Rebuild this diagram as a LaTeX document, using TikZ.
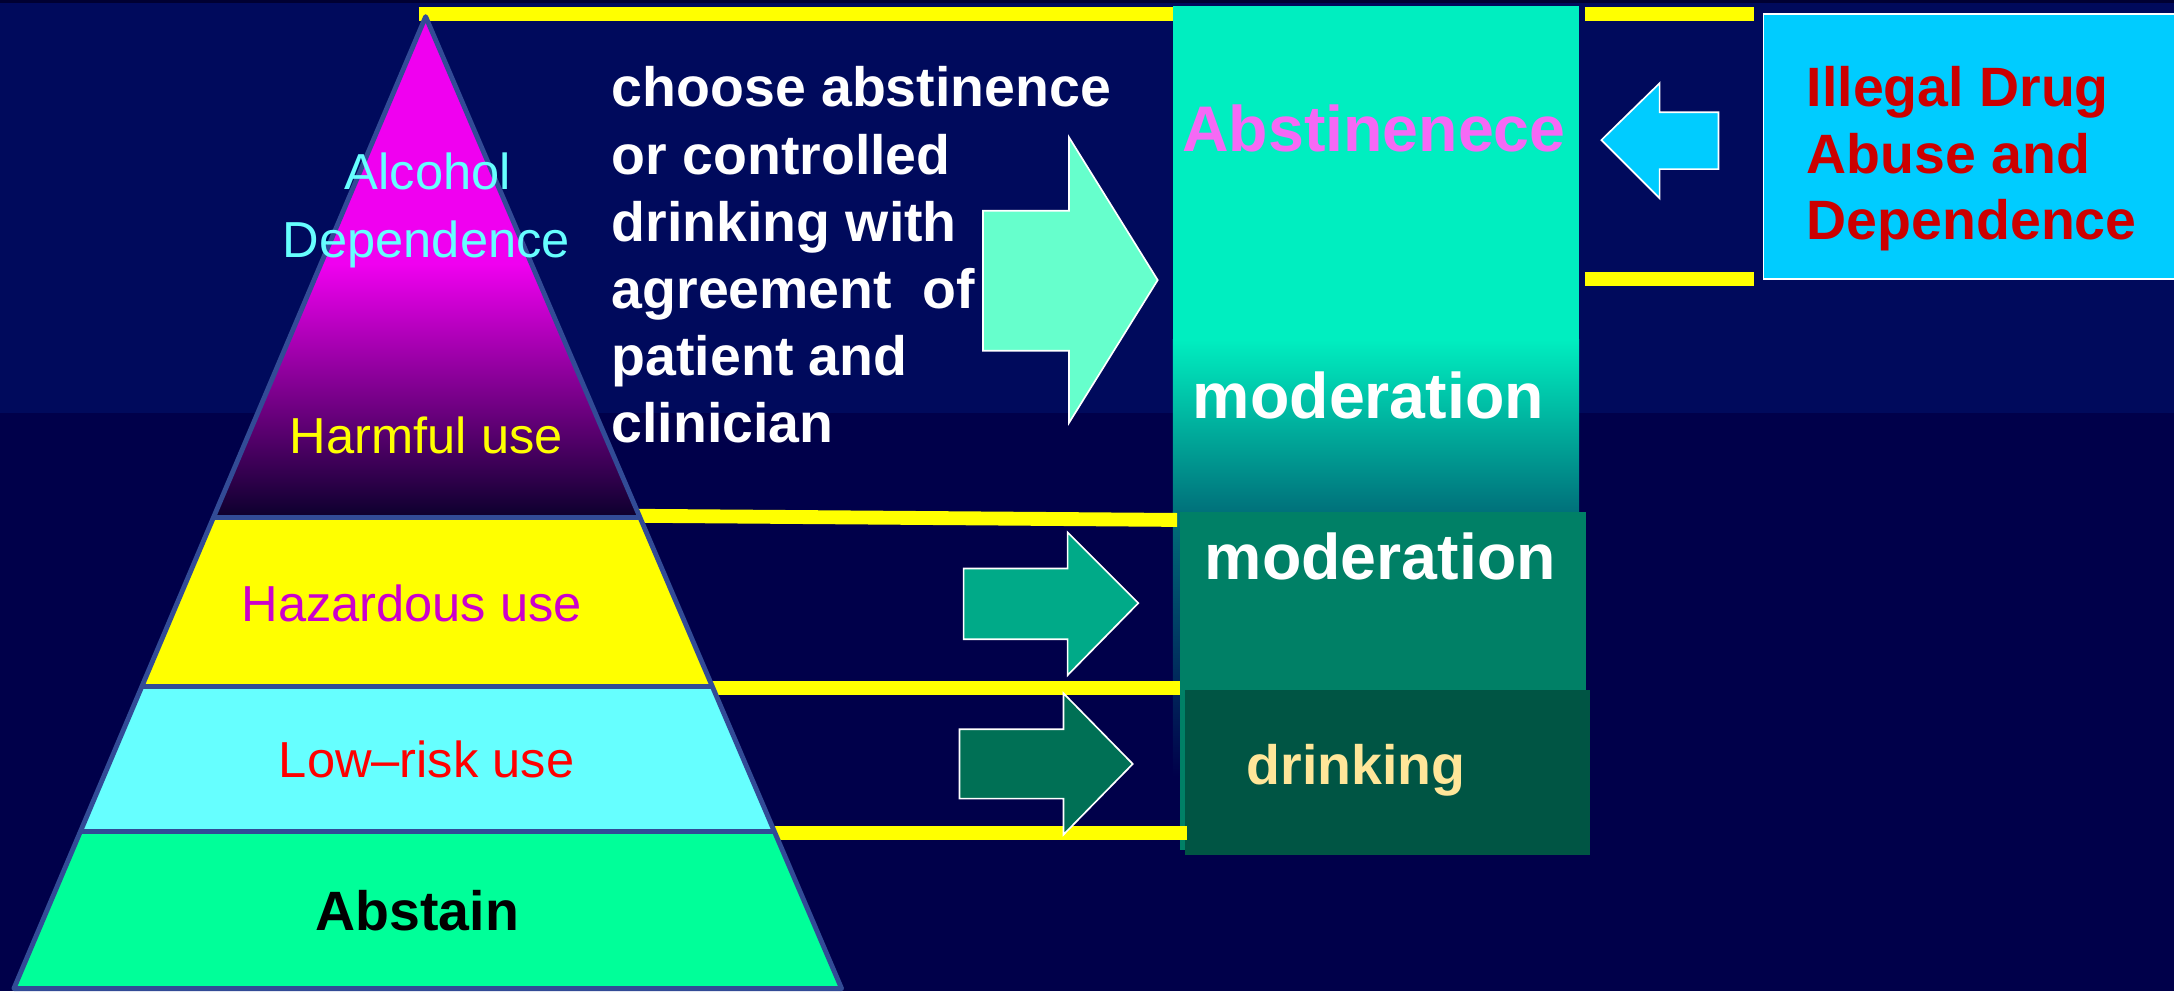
\documentclass[tikz,border=0pt]{standalone}
\usepackage{fontspec}
\setmainfont{Liberation Sans}
\definecolor{bgtop}{RGB}{0,10,92}
\definecolor{bgbot}{RGB}{0,0,74}
\definecolor{topstrip}{RGB}{0,0,50}
\definecolor{mag}{RGB}{240,0,240}
\definecolor{harmdark}{RGB}{12,0,45}
\definecolor{pyrline}{RGB}{50,75,150}
\definecolor{hazyel}{RGB}{255,255,0}
\definecolor{lowcyan}{RGB}{102,255,255}
\definecolor{abstgreen}{RGB}{0,255,153}
\definecolor{barY}{RGB}{255,255,0}
\definecolor{boxtop}{RGB}{0,238,192}
\definecolor{boxmid}{RGB}{0,112,122}
\definecolor{modbox}{RGB}{0,128,102}
\definecolor{drinkbox}{RGB}{0,85,68}
\definecolor{drinktext}{RGB}{255,230,153}
\definecolor{abstpink}{RGB}{245,105,245}
\definecolor{hazmag}{RGB}{204,0,204}
\definecolor{lowred}{RGB}{255,0,0}
\definecolor{illbox}{RGB}{0,204,255}
\definecolor{illtext}{RGB}{204,0,0}
\definecolor{bigarrow}{RGB}{102,255,204}
\definecolor{cyanarrow}{RGB}{0,204,255}
\definecolor{midarrow}{RGB}{0,170,136}
\definecolor{lowarrow}{RGB}{0,112,85}
\newcommand\fntA{\fontsize{36.5}{48.5}\selectfont}
\newcommand\fntB{\bfseries\fontsize{40}{48.5}\selectfont}
\newcommand\fntC{\bfseries\fontsize{46.5}{56}\selectfont}
\begin{document}
\begin{tikzpicture}[x=1pt,y=-1pt,
  txt/.style={inner sep=0pt, anchor=base},
  ltxt/.style={inner sep=0pt, anchor=base west},
  bar/.style={draw=barY, line width=10pt},
  outl/.style={draw=pyrline, line width=3.5pt, line join=round},
  blockarrow/.style={draw=white, line width=1.2pt, line join=miter}]
\useasboundingbox (0,0) rectangle (1568,715);
% background
\fill[bgtop] (0,0) rectangle (1568,298);
\fill[bgbot] (0,298) rectangle (1568,715);
\fill[topstrip] (0,0) rectangle (1568,2.5);
% right column boxes
\fill[boxtop] (846,4) rectangle (1139,246);
\shade[top color=boxtop, bottom color=boxmid] (846,245) rectangle (1139,370);
\shade[top color=boxmid, bottom color=bgbot] (846,369) rectangle (852,560);
\fill[modbox] (851,369) rectangle (1144,613);
\fill[drinkbox] (855,498) rectangle (1147,617);
\filldraw[fill=illbox, draw=white, line width=1.2pt] (1272,10) rectangle (1578,201);
% yellow bars
\draw[bar] (302,10) -- (846,10);
\draw[bar] (1143,10) -- (1265,10);
\draw[bar] (1143,201.5) -- (1265,201.5);
\draw[bar] (458,372) -- (849,375);
\draw[bar] (510,496.5) -- (851,496.5);
\draw[bar] (552,601) -- (856,601);
% pyramid
\shade[top color=mag, bottom color=harmdark] (231.6,190) -- (383.2,190) -- (461.5,373) -- (154.1,373) -- cycle;
\fill[mag] (307,12) -- (231.2,191) -- (383.6,191) -- cycle;
\fill[hazyel] (154.1,373) -- (461.5,373) -- (513.7,495) -- (102.4,495) -- cycle;
\fill[lowcyan] (102.4,495) -- (513.7,495) -- (558.6,600) -- (57.9,600) -- cycle;
\fill[abstgreen] (57.9,600) -- (558.6,600) -- (607,713) -- (10,713) -- cycle;
\draw[outl] (307,12) -- (607,713) -- (10,713) -- cycle;
\draw[outl] (154.1,373) -- (461.5,373);
\draw[outl] (102.4,495) -- (513.7,495);
\draw[outl] (57.9,600) -- (558.6,600);
% block arrows
\filldraw[blockarrow, fill=bigarrow] (709,152) -- (771,152) -- (771,99) -- (835,202) -- (771,305) -- (771,253) -- (709,253) -- cycle;
\filldraw[blockarrow, fill=cyanarrow] (1155,101) -- (1197,60) -- (1197,81) -- (1239.5,81) -- (1239.5,122) -- (1197,122) -- (1197,143) -- cycle;
\filldraw[blockarrow, fill=midarrow] (695,410) -- (770,410) -- (770,384) -- (821,435) -- (770,487) -- (770,461) -- (695,461) -- cycle;
\filldraw[blockarrow, fill=lowarrow] (692,526) -- (767,526) -- (767,500) -- (817,551) -- (767,602) -- (767,576) -- (692,576) -- cycle;
% pyramid texts
\node[txt, text=lowcyan, font=\fntA] (alc) at (308.5,137) {Alcohol};
\node[txt, text=lowcyan, font=\fntA] (dep) at (307.5,185.5) {Dependence};
\node[txt, text=hazyel, font=\fntA] (harm) at (307.5,327) {Harmful use};
\node[txt, text=hazmag, font=\fntA] (haz) at (297,448) {Hazardous use};
\node[txt, text=lowred, font=\fntA] (low) at (307.7,561) {Low–risk use};
\node[txt, text=black, font=\fntB] (abst) at (301,671) {Abstain};
% middle text
\node[ltxt, text=white, font=\fntB] (choose) at (441,77) {\vtop{\fntB\hbox{choose abstinence}\hbox{or controlled}\hbox{drinking with}\hbox{agreement\ \ of}\hbox{patient and}\hbox{clinician}}};
% right column texts
\node[txt, text=abstpink, font=\fntC] (abstn) at (991,109.5) {Abstinenece};
\node[txt, text=white, font=\fntC] (mod1) at (987,302) {moderation};
\node[txt, text=white, font=\fntC] (mod2) at (995.5,418) {moderation};
\node[txt, text=drinktext, font=\fntB] (drink) at (978,565.5) {drinking};
\node[ltxt, text=illtext, font=\fntB] (illegal) at (1303,77) {\vtop{\fntB\baselineskip=48pt\hbox{Illegal Drug}\hbox{Abuse and}\hbox{Dependence}}};
\end{tikzpicture}
\end{document}
